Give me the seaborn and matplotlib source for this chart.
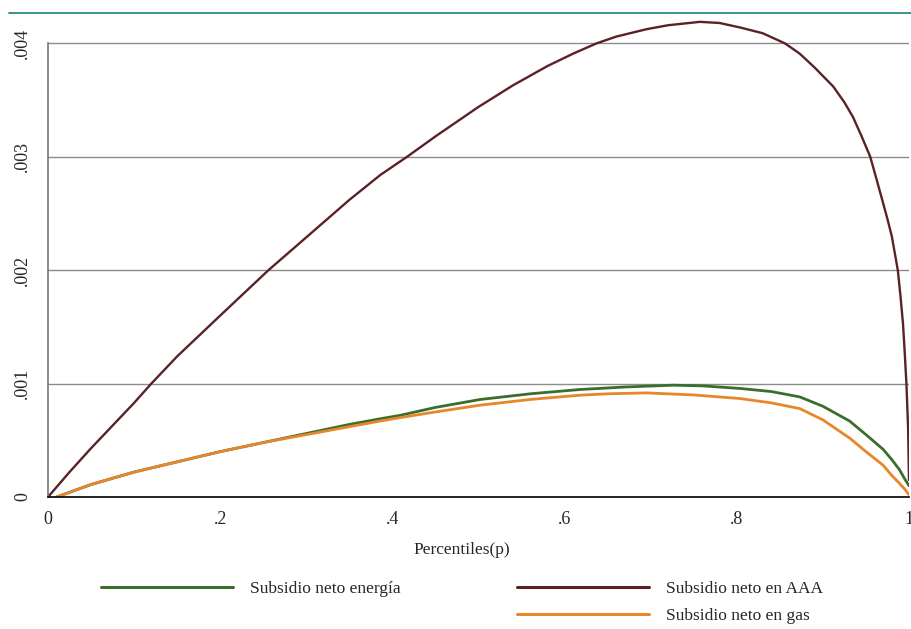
import numpy as np
import pandas as pd
import matplotlib
matplotlib.use("Agg")
import matplotlib.pyplot as plt
import seaborn as sns
from matplotlib.lines import Line2D

# Values (y in units of 1e-3)
p_aaa = [0.0, 0.025, 0.05, 0.075, 0.10, 0.12, 0.15, 0.20, 0.256, 0.30, 0.35,
         0.386, 0.417, 0.45, 0.50, 0.54, 0.58, 0.61, 0.637, 0.66, 0.695, 0.72,
         0.757, 0.78, 0.804, 0.83, 0.856, 0.873, 0.89, 0.912, 0.925, 0.935,
         0.945, 0.955, 0.962, 0.970, 0.975, 0.980, 0.984, 0.987, 0.990, 0.993,
         0.995, 0.997, 0.999, 1.0]
v_aaa = [0.0, 0.22, 0.43, 0.63, 0.83, 1.0, 1.24, 1.6, 2.0, 2.29, 2.62,
         2.84, 3.0, 3.18, 3.44, 3.63, 3.80, 3.91, 4.0, 4.06, 4.125, 4.16,
         4.19, 4.18, 4.14, 4.09, 4.0, 3.91, 3.79, 3.62, 3.48, 3.35,
         3.18, 3.0, 2.81, 2.59, 2.45, 2.30, 2.13, 2.0, 1.78, 1.53,
         1.28, 1.0, 0.6, 0.15]

p_energia = [0.01, 0.05, 0.10, 0.15, 0.20, 0.25, 0.30, 0.35, 0.386, 0.409, 0.45,
             0.502, 0.56, 0.618, 0.67, 0.726, 0.76, 0.804, 0.84, 0.873, 0.90,
             0.931, 0.95, 0.970, 0.98, 0.989, 0.995, 1.0]
v_energia = [0.0, 0.11, 0.22, 0.31, 0.40, 0.48, 0.56, 0.64, 0.69, 0.72, 0.79,
             0.86, 0.91, 0.948, 0.97, 0.986, 0.98, 0.957, 0.93, 0.883, 0.80,
             0.67, 0.55, 0.42, 0.33, 0.24, 0.16, 0.10]

p_gas = [0.01, 0.05, 0.10, 0.15, 0.20, 0.25, 0.30, 0.35, 0.386, 0.409, 0.45,
         0.502, 0.56, 0.618, 0.65, 0.695, 0.75, 0.804, 0.84, 0.873, 0.90,
         0.931, 0.95, 0.970, 0.98, 0.989, 0.995, 1.0]
v_gas = [0.0, 0.11, 0.22, 0.31, 0.40, 0.48, 0.55, 0.62, 0.67, 0.70, 0.75,
         0.81, 0.86, 0.898, 0.91, 0.918, 0.90, 0.868, 0.83, 0.78, 0.68,
         0.52, 0.40, 0.28, 0.19, 0.12, 0.07, 0.02]

series_labels = ["Subsidio neto energía", "Subsidio neto en AAA", "Subsidio neto en gas"]
series_colors = ["#3b6e2c", "#5b2124", "#e8862c"]

x_ticks = [0, 0.2, 0.4, 0.6, 0.8, 1.0]
x_ticklabels = ["0", ".2", ".4", ".6", ".8", "1"]
y_ticks = [0, 0.001, 0.002, 0.003, 0.004]
y_ticklabels = ["0", ".001", ".002", ".003", ".004"]

sns.set_style("white")
plt.rcParams["font.family"] = ["Liberation Serif", "DejaVu Serif"]

fig = plt.figure(figsize=(9.12, 6.29), dpi=100)
ax = fig.add_axes([48 / 912, 132 / 629, 861 / 912, 484 / 629])

df_aaa = pd.DataFrame({"p": p_aaa, "v": np.array(v_aaa) * 1e-3})
df_en = pd.DataFrame({"p": p_energia, "v": np.array(v_energia) * 1e-3})
df_gas = pd.DataFrame({"p": p_gas, "v": np.array(v_gas) * 1e-3})

sns.lineplot(data=df_en, x="p", y="v", ax=ax, color=series_colors[0], lw=2.0,
             sort=False, estimator=None)
sns.lineplot(data=df_gas, x="p", y="v", ax=ax, color=series_colors[2], lw=2.0,
             sort=False, estimator=None)
sns.lineplot(data=df_aaa, x="p", y="v", ax=ax, color=series_colors[1], lw=1.7,
             sort=False, estimator=None)

ax.set_xlim(0, 1)
ax.set_ylim(0, 484 / 113.4 * 1e-3)
ax.set_xticks(x_ticks)
ax.set_xticklabels(x_ticklabels, fontsize=13)
ax.set_yticks(y_ticks)
ax.set_yticklabels(y_ticklabels, fontsize=13, rotation=90, va="center")
ax.tick_params(axis="both", length=7, width=1.2, color="#777777", pad=3)
ax.tick_params(axis="y", pad=5)

for yv in y_ticks[1:]:
    ax.axhline(yv, color="#8c8c8c", lw=1.0, zorder=0)

for side in ["top", "right"]:
    ax.spines[side].set_visible(False)
ax.spines["left"].set_color("#777777")
ax.spines["left"].set_linewidth(1.2)
ax.spines["left"].set_bounds(0, 0.004)
ax.spines["bottom"].set_color("black")
ax.spines["bottom"].set_linewidth(1.2)

ax.set_xlabel("")
ax.set_ylabel("")
fig.text(462 / 912, 1 - 550 / 629, "Percentiles(p)", ha="center", va="center",
         fontsize=12.5)

# teal top rule
fig.add_artist(Line2D([9 / 912, 1.0], [1 - 13 / 629, 1 - 13 / 629],
                      color="#2a8a7e", lw=1.3))

handles = [Line2D([], [], color=series_colors[0], lw=2.2),
           Line2D([], [], color="none", lw=0),
           Line2D([], [], color=series_colors[1], lw=2.2),
           Line2D([], [], color=series_colors[2], lw=2.2)]
labels = [series_labels[0], "", series_labels[1], series_labels[2]]
fig.legend(handles, labels, ncol=2, loc="upper left",
           bbox_to_anchor=(92 / 912, 1 - 572 / 629), frameon=False,
           fontsize=12.5, handlelength=7.6, handletextpad=1.0,
           columnspacing=6.7, labelspacing=0.62, borderpad=0)

fig.savefig("out.png", dpi=100)
